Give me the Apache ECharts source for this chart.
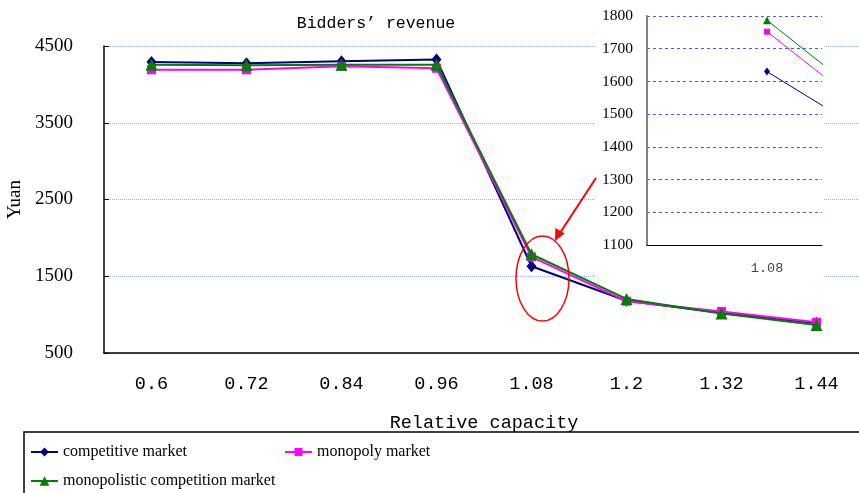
<!DOCTYPE html>
<html>
<head>
<meta charset="utf-8">
<script src="https://cdn.jsdelivr.net/npm/echarts@6/dist/echarts.min.js"></script>
<style>
  html, body { margin: 0; padding: 0; background: #fff; }
  #chart { width: 859px; height: 493px; }
</style>
</head>
<body>
<div id="chart"></div>
<script>
const categories = ['0.6', '0.72', '0.84', '0.96', '1.08', '1.2', '1.32', '1.44'];
const competitive = [4290, 4275, 4300, 4325, 1630, 1180, 1020, 890];
const monopoly = [4190, 4190, 4235, 4210, 1752, 1175, 1040, 900];
const monopolistic = [4255, 4250, 4255, 4255, 1787, 1205, 1015, 865];
const yTicks = [500, 1500, 2500, 3500, 4500];
const insetTicks = [1100, 1200, 1300, 1400, 1500, 1600, 1700, 1800];
const insetFrom = 4; // inset starts at 1.08

const mono = 'Liberation Mono';
const serif = 'Liberation Serif';

const chart = echarts.init(document.getElementById('chart'), null, { renderer: 'canvas' });

const seriesDefs = [
  { name: 'competitive market', data: competitive, color: '#000080', symbol: 'diamond', size: [10, 12], small: [6, 8] },
  { name: 'monopoly market', data: monopoly, color: '#ff00ff', symbol: 'rect', size: 9, small: 6 },
  { name: 'monopolistic competition market', data: monopolistic, color: '#008000', symbol: 'triangle', size: 12, small: 8 }
];

const mainSeries = seriesDefs.map((s, i) => ({
  name: s.name,
  type: 'line',
  xAxisIndex: 0,
  yAxisIndex: 0,
  data: s.data,
  symbol: s.symbol,
  symbolSize: s.size,
  showAllSymbol: true,
  lineStyle: { color: s.color, width: 2 },
  itemStyle: { color: s.color },
  z: 2 + i
}));

const insetSeries = seriesDefs.map((s, i) => ({
  name: s.name,
  type: 'line',
  xAxisIndex: 1,
  yAxisIndex: 1,
  data: s.data.slice(insetFrom).map((v, k) => [k + insetFrom, v]),
  symbol: s.symbol,
  symbolSize: s.small,
  lineStyle: { color: s.color, width: 1 },
  itemStyle: { color: s.color },
  clip: true,
  z: 21 + i
}));

const legendFont = { fontFamily: serif, fontSize: 16, color: '#000' };
const legendBase = { itemWidth: 27, itemGap: 3, padding: 0, textStyle: legendFont };

const option = {
  backgroundColor: '#fff',
  animation: false,
  title: {
    text: 'Bidders’ revenue',
    left: 371,
    top: 10,
    textAlign: 'center',
    textStyle: { fontFamily: mono, fontSize: 16.5, fontWeight: 'normal', color: '#000' }
  },
  legend: [
    Object.assign({ data: [seriesDefs[0].name], left: 30, top: 444, itemHeight: 11 }, legendBase),
    Object.assign({ data: [seriesDefs[1].name], left: 284, top: 444, itemHeight: 10 }, legendBase),
    Object.assign({ data: [seriesDefs[2].name], left: 30, top: 473, itemHeight: 12 }, legendBase)
  ],
  grid: [
    { left: 104, right: -5, top: 46, bottom: 140, outerBoundsMode: 'none', containLabel: false },
    { left: 647, right: 37, top: 16, bottom: 248, z: 20, outerBoundsMode: 'none', containLabel: false }
  ],
  xAxis: [
    {
      type: 'category',
      gridIndex: 0,
      data: categories,
      boundaryGap: true,
      name: 'Relative capacity',
      nameLocation: 'middle',
      nameGap: 61,
      nameTextStyle: { fontFamily: mono, fontSize: 18.5, color: '#000' },
      axisLine: { lineStyle: { color: '#000', width: 1.5 } },
      axisTick: { inside: true, length: 5, lineStyle: { color: '#000' } },
      axisLabel: { fontFamily: mono, fontSize: 18.5, color: '#000', margin: 22 },
      splitLine: { show: false }
    },
    {
      type: 'value',
      gridIndex: 1,
      min: 3.5,
      max: 4.229,
      interval: 0.5,
      z: 20,
      axisLine: { lineStyle: { color: '#000', width: 1 } },
      axisTick: { show: false },
      axisLabel: {
        fontFamily: mono, fontSize: 13.5, color: '#444', margin: 16,
        showMaxLabel: false,
        formatter: v => Number.isInteger(v) ? categories[v] : ''
      },
      splitLine: { show: false }
    }
  ],
  yAxis: [
    {
      type: 'value',
      gridIndex: 0,
      min: yTicks[0],
      max: yTicks[yTicks.length - 1],
      interval: 1000,
      name: 'Yuan',
      nameLocation: 'middle',
      nameRotate: 90,
      nameGap: 76,
      nameTextStyle: { fontFamily: serif, fontSize: 19, color: '#000' },
      axisLine: { show: true, lineStyle: { color: '#000', width: 1.5 } },
      axisTick: { show: true, inside: true, length: 5, lineStyle: { color: '#000' } },
      axisLabel: { fontFamily: serif, fontSize: 19, color: '#000', margin: 31, formatter: v => String(v) },
      splitLine: { show: true, lineStyle: { color: '#9db5ff', type: 'dotted', width: 1 } }
    },
    {
      type: 'value',
      gridIndex: 1,
      min: insetTicks[0],
      max: insetTicks[insetTicks.length - 1],
      interval: 100,
      z: 20,
      axisLine: { show: true, lineStyle: { color: '#808080', width: 2 } },
      axisTick: { show: false },
      axisLabel: { fontFamily: serif, fontSize: 15.5, color: '#000', margin: 14, formatter: v => String(v) },
      splitLine: { show: true, lineStyle: { color: '#3366ff', type: [3, 3], width: 1 } }
    }
  ],
  graphic: [
    { type: 'rect', z: 15, silent: true, shape: { x: 595, y: 0, width: 228, height: 282 }, style: { fill: '#fff' } },
    { type: 'ellipse', z: 30, silent: true, shape: { cx: 542.5, cy: 278.5, rx: 26.5, ry: 42.5 }, style: { fill: 'none', stroke: '#ff0000', lineWidth: 1.5 } },
    { type: 'line', z: 30, silent: true, shape: { x1: 596, y1: 178, x2: 558, y2: 236 }, style: { stroke: '#ff0000', lineWidth: 2 } },
    { type: 'polygon', z: 30, silent: true, shape: { points: [[555, 241], [564.7, 233.5], [555.3, 227.9]] }, style: { fill: '#ff0000' } },
    { type: 'rect', z: 30, silent: true, shape: { x: 24, y: 432, width: 850, height: 80 }, style: { fill: 'none', stroke: '#000', lineWidth: 1.5 } }
  ],
  series: mainSeries.concat(insetSeries)
};

chart.setOption(option);
</script>
</body>
</html>
